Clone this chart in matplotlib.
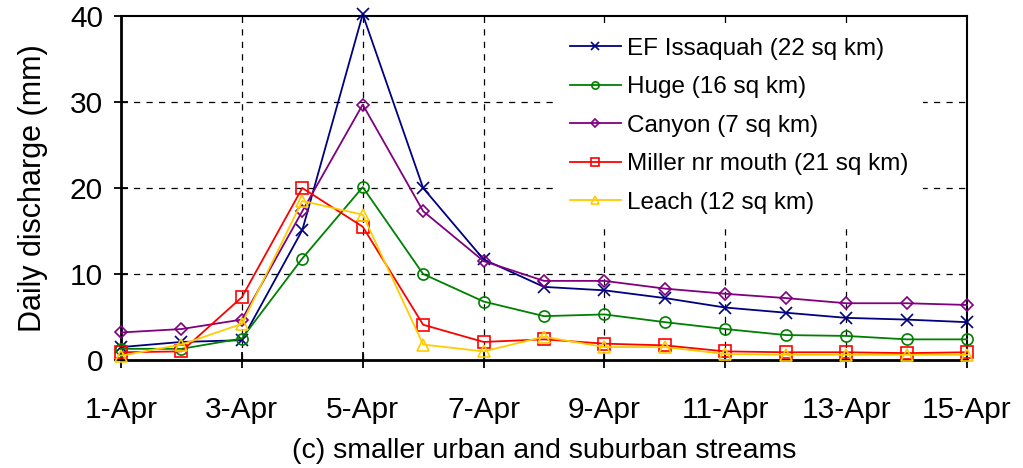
import matplotlib
matplotlib.use("Agg")
import matplotlib.pyplot as plt

plt.rcParams['font.family'] = ['Liberation Sans', 'DejaVu Sans']

days = list(range(1, 16))
tick_days = [1, 3, 5, 7, 9, 11, 13, 15]
tick_labels = ["1-Apr", "3-Apr", "5-Apr", "7-Apr", "9-Apr", "11-Apr", "13-Apr", "15-Apr"]

ef_issaquah = [1.5, 2.1, 2.3, 15.1, 40.2, 20.0, 11.7, 8.5, 8.1, 7.2, 6.1, 5.5, 4.9, 4.7, 4.4]
huge = [1.3, 1.3, 2.5, 11.8, 20.1, 10.0, 6.8, 5.1, 5.3, 4.4, 3.6, 2.9, 2.8, 2.4, 2.4]
canyon = [3.2, 3.6, 4.7, 17.3, 29.7, 17.3, 11.5, 9.2, 9.2, 8.3, 7.7, 7.2, 6.6, 6.6, 6.4]
miller = [0.9, 1.0, 7.3, 20.0, 15.5, 4.1, 2.1, 2.4, 1.9, 1.7, 1.0, 0.9, 0.9, 0.8, 0.9]
leach = [0.5, 1.8, 4.2, 18.5, 16.9, 1.8, 1.0, 2.7, 1.5, 1.5, 0.7, 0.6, 0.6, 0.6, 0.6]

series = [
    ("EF Issaquah (22 sq km)", ef_issaquah, "#000080", "x"),
    ("Huge (16 sq km)", huge, "#008000", "o"),
    ("Canyon (7 sq km)", canyon, "#800080", "D"),
    ("Miller nr mouth (21 sq km)", miller, "#FF0000", "s"),
    ("Leach (12 sq km)", leach, "#FFCC00", "^"),
]

fig = plt.figure(figsize=(10.23, 4.68), dpi=100)
ax = fig.add_axes([121/1023, 1 - 360/468, (967 - 121)/1023, (360 - 16)/468])

for name, vals, col, mk in series:
    ms = 6.5 if mk == "D" else 8
    ax.plot(days, vals, color=col, marker=mk, markersize=ms, markerfacecolor='none',
            markeredgecolor=col, markeredgewidth=1.2, linewidth=1.3, label=name, clip_on=False, zorder=3)

ax.set_xlim(1, 15)
ax.set_ylim(0, 40)
ax.set_xticks(tick_days)
ax.set_xticklabels(tick_labels)
ax.set_yticks([0, 10, 20, 30, 40])

for d in tick_days[1:-1]:
    ax.axvline(d, color='black', linewidth=0.9, linestyle=(0, (5, 5)), zorder=1)
for v in [10, 20, 30]:
    ax.axhline(v, color='black', linewidth=0.9, linestyle=(0, (5, 5)), zorder=1)

ax.spines['left'].set_linewidth(2.0)
ax.spines['bottom'].set_linewidth(2.0)
ax.spines['top'].set_linewidth(1.5)
ax.spines['right'].set_linewidth(1.5)

ax.tick_params(axis='x', direction='inout', length=12, width=1.3, labelsize=21.5, pad=20)
ax.tick_params(axis='y', direction='inout', length=10, width=1.3, labelsize=21.5, pad=8)

ax.set_ylabel("Daily discharge (mm)", fontsize=22, labelpad=16)
ax.set_xlabel("(c) smaller urban and suburban streams", fontsize=20.5, labelpad=10)

leg = ax.legend(loc='upper left', bbox_to_anchor=(555/1023, 1 - 23/468), bbox_transform=fig.transFigure,
                frameon=True, fancybox=False, fontsize=17.5, handlelength=2.1, handletextpad=0.25,
                labelspacing=0.68, borderpad=0.6, borderaxespad=0, markerscale=0.65)
leg.get_frame().set_facecolor('white')
leg.get_frame().set_edgecolor('none')
leg.get_frame().set_alpha(1.0)
leg.set_zorder(5)

fig.savefig("out.png", dpi=100)
